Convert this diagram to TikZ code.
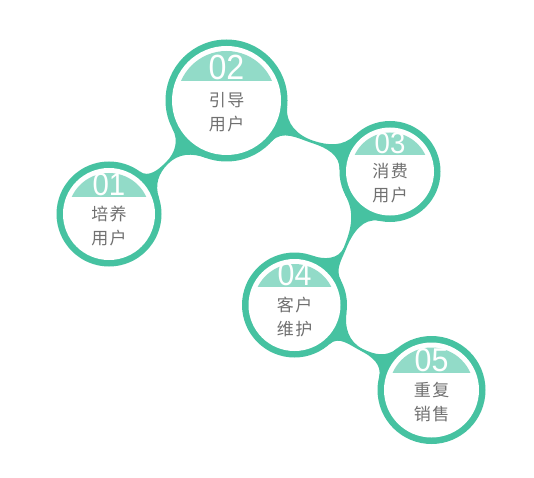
\documentclass[tikz,border=0pt]{standalone}
\usepackage{fontspec}
\newfontfamily\cjk{Noto Sans CJK SC}
\newfontfamily\numfont{Liberation Sans}
\usetikzlibrary{backgrounds,calc}
\definecolor{ring}{HTML}{46C2A1}
\definecolor{capc}{HTML}{92DBC8}
\definecolor{txt}{HTML}{707070}
\newcommand\gapc{\hspace{1.5pt}}
\tikzset{
  bubble/.style={circle, fill=ring, inner sep=0pt, outer sep=0pt},
  numlabel/.style={text=white, inner sep=0pt, anchor=base, xscale=0.92},
  cjklabel/.style={text=txt, inner sep=0pt, font=\cjk\fontsize{17}{17}\selectfont},
  neckcurve/.style={looseness=1},
}
% name, x, y, r, h, number, fontsize, line1, line2
\newcommand\bub[9]{%
  \node[bubble, minimum size=2*#4] (#1) at (#2,#3) {};
  \fill[white] (#1.center) circle[radius=#4-6.5];
  \begin{scope}
    \clip (#1.center) circle[radius=#4-11.5];
    \fill[capc] ($(#1.center)+(-#4,#5)$) rectangle ($(#1.center)+(#4,#4)$);
  \end{scope}
  \node[numlabel, font=\numfont\fontsize{#7}{#7}\selectfont] (#1num) at ($(#1.center)+(0,#5+1.5)$) {#6};
  \node[cjklabel] (#1a) at ($(#1.center)+(0,0)$) {#8};
  \node[cjklabel] (#1b) at ($(#1.center)+(0,-24)$) {#9};
}
% A, B, neck, aU, aL, bU, bL, phi, halfwidth
\newcommand\conn[9]{%
  \pgfmathsetmacro\oU{#4-90}
  \pgfmathsetmacro\iU{#6+90}
  \pgfmathsetmacro\oL{#7-90}
  \pgfmathsetmacro\iL{#5+90}
  \pgfmathsetmacro\pf{#8+180}
  \pgfmathsetmacro\pu{#8+90}
  \pgfmathsetmacro\pd{#8-90}
  \fill[ring] (#1.#4) to[neckcurve,out=\oU,in=\pf] ($(#3)+(\pu:#9)$)
     to[neckcurve,out=#8,in=\iU] (#2.#6) -- (#2.center)
     -- (#2.#7) to[neckcurve,out=\oL,in=#8] ($(#3)+(\pd:#9)$)
     to[neckcurve,out=\pf,in=\iL] (#1.#5) -- (#1.center) -- cycle;
}
\begin{document}
\begin{tikzpicture}[x=1pt,y=1pt]
\useasboundingbox (0,0) rectangle (534,477);
\bub{c1}{109}{263}{52.5}{17}{01}{32}{培\gapc 养}{用\gapc 户}
\bub{c2}{226.5}{376.5}{61}{19}{02}{35}{引\gapc 导}{用\gapc 户}
\bub{c3}{390}{305.5}{50.5}{16}{03}{30}{消\gapc 费}{用\gapc 户}
\bub{c4}{294.5}{172}{52.5}{18}{04}{33}{客\gapc 户}{维\gapc 护}
\bub{c5}{431.5}{87}{54}{17}{05}{33}{重\gapc 复}{销\gapc 售}
\coordinate (n12) at (167,314);
\coordinate (n23) at (313,335);
\coordinate (n34) at (345,229);
\coordinate (n45) at (362,127);
\begin{pgfonlayer}{background}
\fill[white] (0,0) rectangle (534,477);
\conn{c1}{c2}{n12}{54}{18}{208}{250}{45}{1.3}
\conn{c2}{c3}{n23}{354}{318}{134}{178}{342}{1.3}
\conn{c3}{c4}{n34}{258}{208}{28}{70}{248}{1.3}
\conn{c4}{c5}{n45}{352}{312}{130}{166}{333}{1.3}
\end{pgfonlayer}
\end{tikzpicture}
\end{document}
